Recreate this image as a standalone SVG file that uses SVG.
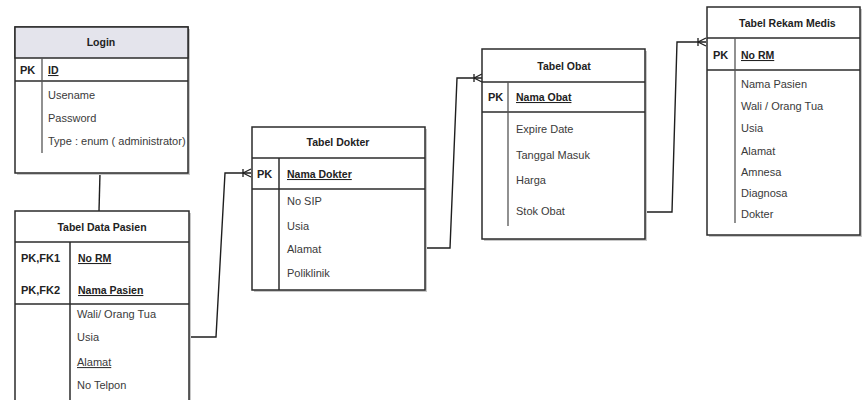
<svg xmlns="http://www.w3.org/2000/svg" width="863" height="400" viewBox="0 0 863 400">
  <style>
    .box { fill: #ffffff; stroke: #2b2b2b; stroke-width: 1.5; }
    .shadow { fill: #c8c8c8; }
    .hdr-login { fill: #e4e4ec; stroke: #2b2b2b; stroke-width: 1.5; }
    .sep { stroke: #2b2b2b; stroke-width: 1.5; fill: none; }
    .col { stroke: #555555; stroke-width: 1.3; fill: none; }
    .title { font-family: "Liberation Sans", Arial, sans-serif; font-size: 10.5px; font-weight: bold; fill: #222; }
    .key { font-family: "Liberation Sans", Arial, sans-serif; font-size: 11px; font-weight: bold; fill: #222; }
    .attr { font-family: "Liberation Sans", Arial, sans-serif; font-size: 11px; fill: #3a3a3a; }
    .pk { font-family: "Liberation Sans", Arial, sans-serif; font-size: 10.5px; fill: #222; text-decoration: underline; font-weight: bold; }
    .link { stroke: #1e1e1e; stroke-width: 1.4; fill: none; }
  </style>
  <defs>
    <marker id="many" markerWidth="12" markerHeight="12" refX="10" refY="6" orient="auto" markerUnits="userSpaceOnUse">
      <path d="M2,6 L10,2 M2,6 L10,10 M2,2 L2,10" stroke="#1e1e1e" stroke-width="1.3" fill="none"/>
    </marker>
  </defs>

  <rect width="863" height="400" fill="#ffffff"/>

  <!-- relationship lines -->
  <g id="connectors">
    <path class="link" d="M100,173 L99,211"/>
    <path class="link" d="M190,337 L216,337 L225,173 L251,173" marker-end="url(#many)"/>
    <path class="link" d="M425,248 L450,248 L457,78 L482,78" marker-end="url(#many)"/>
    <path class="link" d="M645,212 L672,212 L677,42 L706,42" marker-end="url(#many)"/>
  </g>

  <!-- Login -->
  <g id="login">
    <rect class="shadow" x="17" y="29" width="173" height="146"/>
    <rect class="box" x="15" y="27" width="173" height="146"/>
    <rect class="hdr-login" x="15" y="27" width="173" height="31"/>
    <line class="sep" x1="15" y1="81" x2="188" y2="81"/>
    <line class="col" x1="42" y1="58" x2="42" y2="153"/>
    <text class="title" x="101" y="46" text-anchor="middle">Login</text>
    <text class="key" x="20" y="74">PK</text>
    <text class="pk" x="48" y="74">ID</text>
    <text class="attr" x="48" y="99">Usename</text>
    <text class="attr" x="48" y="122">Password</text>
    <text class="attr" x="48" y="145">Type : enum ( administrator)</text>
  </g>

  <!-- Tabel Data Pasien -->
  <g id="data-pasien">
    <rect class="shadow" x="17" y="213" width="174" height="190"/>
    <rect class="box" x="15" y="211" width="174" height="190"/>
    <line class="sep" x1="15" y1="242" x2="189" y2="242"/>
    <line class="sep" x1="15" y1="304" x2="189" y2="304"/>
    <line class="sep" x1="70" y1="242" x2="70" y2="401"/>
    <text class="title" x="102" y="231" text-anchor="middle">Tabel Data Pasien</text>
    <text class="key" x="21" y="262">PK,FK1</text>
    <text class="pk" x="78" y="262">No RM</text>
    <text class="key" x="21" y="294">PK,FK2</text>
    <text class="pk" x="78" y="294">Nama Pasien</text>
    <text class="attr" x="77" y="318">Wali/ Orang Tua</text>
    <text class="attr" x="77" y="341">Usia</text>
    <text class="attr" x="77" y="366" text-decoration="underline">Alamat</text>
    <text class="attr" x="77" y="389">No Telpon</text>
  </g>

  <!-- Tabel Dokter -->
  <g id="dokter">
    <rect class="shadow" x="254" y="129" width="173" height="163"/>
    <rect class="box" x="252" y="127" width="173" height="163"/>
    <line class="sep" x1="252" y1="158" x2="425" y2="158"/>
    <line class="sep" x1="252" y1="189" x2="425" y2="189"/>
    <line class="sep" x1="279" y1="158" x2="279" y2="290"/>
    <text class="title" x="338" y="146" text-anchor="middle">Tabel Dokter</text>
    <text class="key" x="257" y="178">PK</text>
    <text class="pk" x="287" y="178">Nama Dokter</text>
    <text class="attr" x="287" y="205">No SIP</text>
    <text class="attr" x="287" y="230">Usia</text>
    <text class="attr" x="287" y="253">Alamat</text>
    <text class="attr" x="287" y="277">Poliklinik</text>
  </g>

  <!-- Tabel Obat -->
  <g id="obat">
    <rect class="shadow" x="484" y="51" width="163" height="190"/>
    <rect class="box" x="482" y="49" width="163" height="190"/>
    <line class="sep" x1="482" y1="82" x2="645" y2="82"/>
    <line class="sep" x1="482" y1="112" x2="645" y2="112"/>
    <line class="col" x1="508" y1="82" x2="508" y2="226"/>
    <text class="title" x="564" y="70" text-anchor="middle">Tabel Obat</text>
    <text class="key" x="488" y="101">PK</text>
    <text class="pk" x="516" y="101">Nama Obat</text>
    <text class="attr" x="516" y="133">Expire Date</text>
    <text class="attr" x="516" y="159">Tanggal Masuk</text>
    <text class="attr" x="516" y="184">Harga</text>
    <text class="attr" x="516" y="215">Stok Obat</text>
  </g>

  <!-- Tabel Rekam Medis -->
  <g id="rekam-medis">
    <rect class="shadow" x="709" y="9" width="153" height="228"/>
    <rect class="box" x="707" y="7" width="153" height="228"/>
    <line class="sep" x1="707" y1="38" x2="860" y2="38"/>
    <line class="sep" x1="707" y1="70" x2="860" y2="70"/>
    <line class="col" x1="735" y1="38" x2="735" y2="223"/>
    <text class="title" x="739" y="27">Tabel Rekam Medis</text>
    <text class="key" x="713" y="59">PK</text>
    <text class="pk" x="741" y="59">No RM</text>
    <text class="attr" x="741" y="88">Nama Pasien</text>
    <text class="attr" x="741" y="110">Wali / Orang Tua</text>
    <text class="attr" x="741" y="132">Usia</text>
    <text class="attr" x="741" y="155">Alamat</text>
    <text class="attr" x="741" y="176">Amnesa</text>
    <text class="attr" x="741" y="197">Diagnosa</text>
    <text class="attr" x="741" y="218">Dokter</text>
  </g>
</svg>
